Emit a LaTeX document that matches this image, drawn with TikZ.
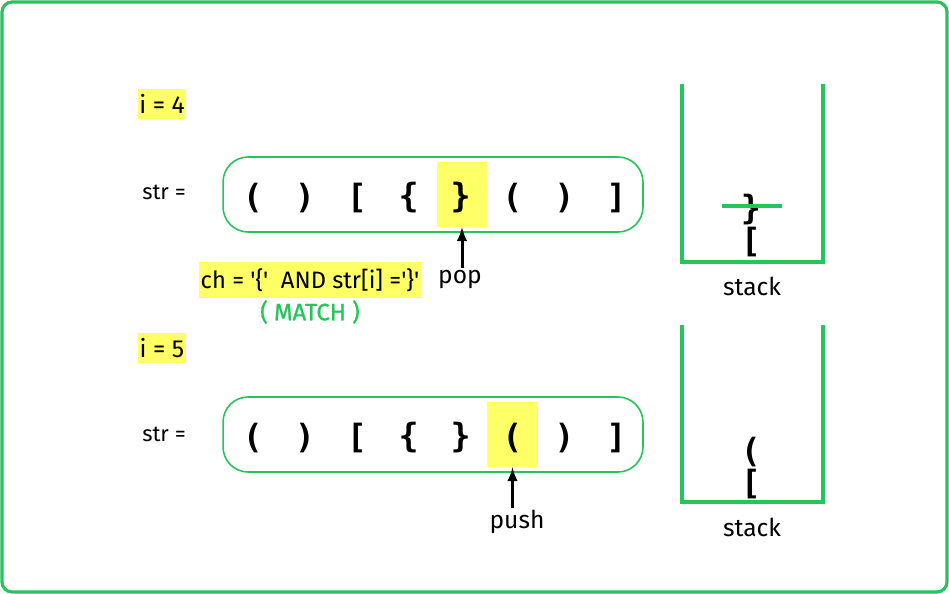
\documentclass[tikz,border=0pt]{standalone}
\usepackage{fontspec}
\setmainfont{Fira Sans}
\newfontfamily\bracefont{DejaVu Sans Mono}
\newfontfamily\matchfont{Fira Sans}[FakeBold=1]
\usetikzlibrary{positioning}
\definecolor{gfggreen}{RGB}{37,196,92}
\definecolor{hilite}{RGB}{255,255,102}
\tikzset{
  chr/.style={font=\bracefont\bfseries\fontsize{19}{19}\selectfont, inner sep=0pt},
  hlbox/.style={fill=hilite, inner sep=0pt},
  label/.style={font=\fontsize{14}{16}\selectfont, inner sep=1pt},
  strbox/.style={draw=gfggreen, line width=0.9pt, rounded corners=0.5cm,
    minimum width=8.4cm, minimum height=1.5cm},
  stackwall/.style={draw=gfggreen, line width=2.3pt},
}
\begin{document}
\begin{tikzpicture}[x=0.02cm, y=-0.02cm]
  \useasboundingbox (0,0) rectangle (949,594);
  \draw[gfggreen, line width=1.8pt, rounded corners=0.2cm] (2,2) rectangle (947,592);

  % i = 4
  \node[hlbox, minimum width=0.92cm, minimum height=0.6cm, label] (i4) at (162,104) {i = 4};
  \node[font=\fontsize{12.5}{14}\selectfont] (str1) at (164,192) {str =};
  \node[strbox] (row1) at (433,194.5) {};
  \node[hlbox, minimum width=1cm, minimum height=1.3cm] (hl1) at (462,194.5) {};
  \foreach \c [count=\k from 0] in {{(},{)},{[},{\{},{\}},{(},{)},{]}}
    \node[chr] (a\k) at (253+51.9*\k,198) {\c};
  \node[label] (pop) at (460,279) {pop};
  \draw[-latex, line width=1.7pt] (pop.north -| hl1.south) -- (hl1.south);
  \node[hlbox, minimum width=4.46cm, minimum height=0.72cm, font=\fontsize{13.5}{15}\selectfont]
    (cond) at (310,280) {ch = \textquotesingle\{\textquotesingle\ \ AND str[i] =\textquotesingle\}\textquotesingle};
  \node[font=\matchfont\fontsize{13.5}{15}\selectfont, text=gfggreen] (match) at (310,312) {( MATCH )};

  % stack after pop
  \draw[stackwall] (682,84) -- (682,262) -- (823,262) -- (823,84);
  \node[chr] (s1top) at (751,210) {\}};
  \draw[gfggreen, line width=2.2pt] (722,206) -- (782,206);
  \node[chr] (s1bot) at (751,242) {[};
  \node[label] (stack1) at (752,286) {stack};

  % i = 5
  \node[hlbox, minimum width=0.92cm, minimum height=0.6cm, label] (i5) at (162,348) {i = 5};
  \node[font=\fontsize{12.5}{14}\selectfont] (str2) at (164,434) {str =};
  \node[strbox] (row2) at (433,434.5) {};
  \node[hlbox, minimum width=1.02cm, minimum height=1.3cm] (hl2) at (512.5,434.5) {};
  \foreach \c [count=\k from 0] in {{(},{)},{[},{\{},{\}},{(},{)},{]}}
    \node[chr] (b\k) at (253+51.9*\k,438) {\c};
  \node[label] (push) at (517,522) {push};
  \draw[-latex, line width=1.7pt] (push.north -| hl2.south) -- (hl2.south);

  % stack after push
  \draw[stackwall] (682,325) -- (682,502) -- (823,502) -- (823,325);
  \node[chr] (s2top) at (751,452) {(};
  \node[chr] (s2bot) at (751,484) {[};
  \node[label] (stack2) at (752,527) {stack};
\end{tikzpicture}
\end{document}
